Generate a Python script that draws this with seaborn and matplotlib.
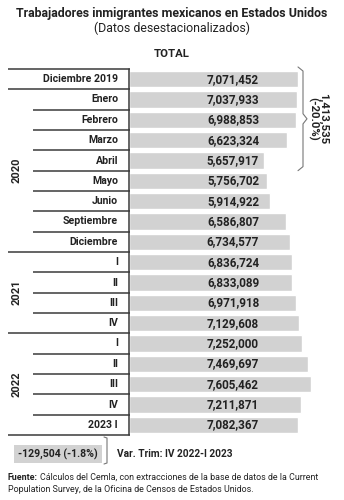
import matplotlib
matplotlib.use("Agg")
import matplotlib.pyplot as plt
import matplotlib.transforms as mtransforms
import seaborn as sns
import pandas as pd

sns.set_style("white")
plt.rcParams['font.family'] = ['Roboto', 'DejaVu Sans']

labels = ["Diciembre 2019", "Enero", "Febrero", "Marzo", "Abril", "Mayo", "Junio",
          "Septiembre", "Diciembre", "I", "II", "III", "IV", "I", "II", "III", "IV", "2023 I"]
values = [7071452, 7037933, 6988853, 6623324, 5657917, 5756702, 5914922, 6586807,
          6734577, 6836724, 6833089, 6971918, 7129608, 7252000, 7469697, 7605462,
          7211871, 7082367]
years = ["2020", "2021", "2022"]
year_spans = [(1, 8), (9, 12), (13, 17)]
bracket_text = "1,413,535\n(-20.0%)"
var_text = "-129,504 (-1.8%)"
var_label = "Var. Trim: IV 2022-I 2023"

W, H = 344, 500
fig = plt.figure(figsize=(W / 100, H / 100), dpi=100)
fig.patch.set_facecolor("white")

px_per_unit = 23.9 / 1e6
ax_left_px, ax_right_px = 129, 344
ax_top_px, ax_bot_px = 69, 435
ax = fig.add_axes([ax_left_px / W, 1 - ax_bot_px / H,
                   (ax_right_px - ax_left_px) / W, (ax_bot_px - ax_top_px) / H])

df = pd.DataFrame({"row": list(range(len(values))), "value": values})
sns.barplot(data=df, x="value", y="row", orient="h", color="#d2d2d2",
            saturation=1, width=0.8, ax=ax)
ax.set_xlim(0, (ax_right_px - ax_left_px) / px_per_unit)
ax.set_ylim(len(values) - 0.5, -0.5)
ax.axis("off")

def fx(px):
    return px / W

trans = mtransforms.blended_transform_factory(fig.transFigure, ax.transData)
dark = "#3a3a3a"
txt = "#222222"

# row labels and value labels
for i, (lab, v) in enumerate(zip(labels, values)):
    fig.text(fx(118), i, lab, transform=trans, ha="right", va="center",
             fontsize=7.6, fontweight="bold", color=txt)
    fig.text(fx(233), i, f"{v:,}", transform=trans, ha="center", va="center",
             fontsize=8.4, fontweight="bold", color=txt)

# separator lines
outer = {-0.5, 0.5, 8.5, 12.5, 17.5}
for b in [k + 0.5 for k in range(-1, len(values))]:
    x0 = 8 if b in outer else 33
    ax.plot([fx(x0), fx(130)], [b, b], transform=trans, color=dark, lw=1.1,
            clip_on=False, solid_capstyle="butt")
# vertical line
ax.plot([fx(128.5), fx(128.5)], [-0.5, len(values) - 0.5], transform=trans,
        color=dark, lw=1.1, clip_on=False)

# year labels
for yr, (a, b) in zip(years, year_spans):
    fig.text(fx(17), (a + b) / 2, yr, transform=trans, rotation=90, ha="center",
             va="center", fontsize=8.0, fontweight="bold", color=txt)

# right bracket
bx = fx(303)
top, bot = -0.55, 4.45
mid = (top + bot) / 2
ax.plot([fx(298), bx, bx, fx(307), bx, bx, fx(298)],
        [top - 0.05, top + 0.15, mid - 0.25, mid, mid + 0.25, bot - 0.15, bot + 0.05],
        transform=trans, color="#777777", lw=0.8, clip_on=False)
fig.text(fx(318), mid, bracket_text, transform=trans, rotation=270, ha="center",
         va="center", fontsize=8.2, fontweight="bold", color=txt,
         multialignment="center", linespacing=1.0)

# titles
fig.text(0.5, 1 - 14 / H, "Trabajadores inmigrantes mexicanos en Estados Unidos",
         ha="center", va="center", fontsize=8.9, fontweight="bold", color=txt)
fig.text(0.5, 1 - 28 / H, "(Datos desestacionalizados)", ha="center", va="center",
         fontsize=8.9, color=txt)
fig.text(fx(172), 1 - 54 / H, "TOTAL", ha="center", va="center", fontsize=8.2,
         fontweight="bold", color=txt)

# bottom variation box
fig.text(fx(58), 1 - 454 / H, var_text, ha="center", va="center", fontsize=7.6,
         fontweight="bold", color=txt,
         bbox=dict(boxstyle="square,pad=0.35", fc="#d2d2d2", ec="none"))
fig.add_artist(plt.Line2D([fx(104), fx(107), fx(107), fx(104)],
                          [1 - 437 / H, 1 - 438 / H, 1 - 463 / H, 1 - 464 / H],
                          transform=fig.transFigure, color="#777777", lw=0.8))
fig.text(fx(117), 1 - 454 / H, var_label, ha="left", va="center", fontsize=7.3,
         fontweight="bold", color=txt)

# footnote
renderer = fig.canvas.get_renderer()
fs = 6.4
t1 = fig.text(fx(8), 1 - 477 / H, "Fuente:", ha="left", va="center", fontsize=fs,
              fontweight="bold", color=txt)
bb = t1.get_window_extent(renderer)
fig.text(bb.x1 / W + 1.5 / W, 1 - 477 / H,
         "Cálculos del Cemla, con extracciones de la base de datos de la Current",
         ha="left", va="center", fontsize=fs, color=txt)
fig.text(fx(8), 1 - 489 / H,
         "Population Survey, de la Oficina de Censos de Estados Unidos.",
         ha="left", va="center", fontsize=fs, color=txt)

fig.savefig("out.png", dpi=100, facecolor="white")
